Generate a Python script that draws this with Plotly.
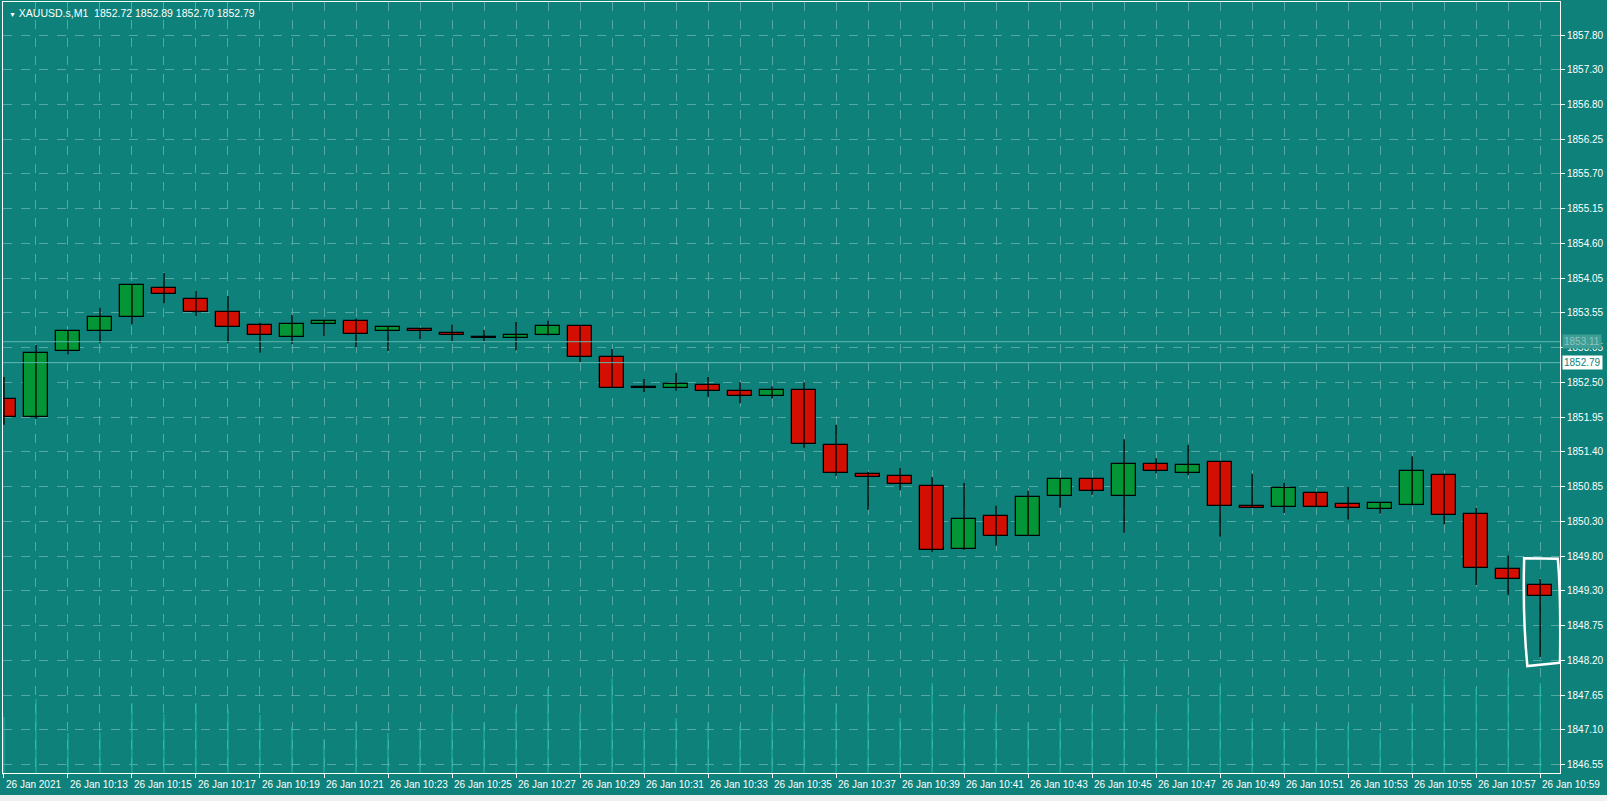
import plotly.graph_objects as go

# M1 bars 10:11 .. 10:59
minutes = list(range(11, 60))
opens = [1852.24, 1851.96, 1852.97, 1853.27, 1853.49, 1853.93, 1853.76, 1853.57, 1853.37, 1853.18,
         1853.38, 1853.43, 1853.27, 1853.31, 1853.24, 1853.17, 1853.17, 1853.21, 1853.35, 1852.88,
         1852.40, 1852.40, 1852.45, 1852.36, 1852.28, 1852.37, 1851.53, 1851.09, 1851.06, 1850.91,
         1849.94, 1850.45, 1850.14, 1850.75, 1851.01, 1850.75, 1851.24, 1851.10, 1851.27, 1850.60,
         1850.58, 1850.80, 1850.63, 1850.55, 1850.61, 1851.07, 1850.48, 1849.64, 1849.39]
highs = [1852.57, 1853.06, 1853.28, 1853.63, 1853.99, 1854.16, 1853.89, 1853.81, 1853.40, 1853.52,
         1853.44, 1853.46, 1853.35, 1853.32, 1853.37, 1853.29, 1853.41, 1853.43, 1853.36, 1853.00,
         1852.54, 1852.63, 1852.57, 1852.49, 1852.43, 1852.49, 1851.84, 1851.12, 1851.18, 1851.04,
         1850.95, 1850.60, 1850.83, 1851.02, 1851.02, 1851.62, 1851.33, 1851.53, 1851.28, 1851.09,
         1850.95, 1850.81, 1850.89, 1850.66, 1851.36, 1851.09, 1850.57, 1849.84, 1849.48]
lows = [1851.84, 1851.93, 1852.92, 1853.09, 1853.38, 1853.70, 1853.50, 1853.09, 1852.94, 1853.08,
        1853.20, 1853.03, 1852.97, 1853.15, 1853.12, 1853.12, 1852.98, 1853.21, 1852.80, 1852.40,
        1852.34, 1852.36, 1852.27, 1852.17, 1852.24, 1851.49, 1851.06, 1850.54, 1850.84, 1849.90,
        1849.92, 1849.99, 1850.14, 1850.57, 1850.77, 1850.19, 1851.10, 1851.07, 1850.13, 1850.57,
        1850.49, 1850.58, 1850.39, 1850.48, 1850.61, 1850.32, 1849.39, 1849.24, 1848.29]
closes = [1851.96, 1852.94, 1853.27, 1853.49, 1853.98, 1853.84, 1853.57, 1853.34, 1853.21, 1853.38,
          1853.43, 1853.23, 1853.34, 1853.27, 1853.21, 1853.17, 1853.21, 1853.35, 1852.88, 1852.40,
          1852.40, 1852.46, 1852.36, 1852.28, 1852.37, 1851.55, 1851.10, 1851.04, 1850.94, 1849.93,
          1850.40, 1850.14, 1850.74, 1851.01, 1850.83, 1851.24, 1851.13, 1851.23, 1850.60, 1850.57,
          1850.87, 1850.58, 1850.57, 1850.65, 1851.13, 1850.46, 1849.65, 1849.48, 1849.22]
volumes = [56, 74, 40, 41, 70, 59, 70, 64, 58, 46, 34, 52, 40, 45, 60, 50, 65, 85, 60, 95,
           45, 55, 50, 48, 60, 100, 70, 80, 55, 90, 65, 60, 50, 55, 65, 110, 60, 75, 90, 55,
           50, 45, 48, 40, 70, 95, 85, 100, 90]

price_ticks = [1857.80 - i * 0.53125 for i in range(22)]
price_labels = ["1857.80", "1857.30", "1856.80", "1856.25", "1855.70", "1855.15", "1854.60",
                "1854.05", "1853.55", "1853.05", "1852.50", "1851.95", "1851.40", "1850.85",
                "1850.30", "1849.80", "1849.30", "1848.75", "1848.20", "1847.65", "1847.10",
                "1846.55"]
time_labels = ["26 Jan 2021"] + ["26 Jan 10:%02d" % m for m in minutes[2::2]]
bid, last_high = 1852.79, 1853.11

BG = "#0e827a"
GRID = "#55a9a2"
UP, DOWN = "#029636", "#d20f00"
FONT = "Liberation Sans, Arial, sans-serif"

x = list(range(len(minutes)))
fig = go.Figure()

# volume lines
vx, vy = [], []
for i, v in zip(x, volumes):
    vx += [i, i, None]
    vy += [0, v, None]
fig.add_trace(go.Scatter(x=vx, y=vy, yaxis="y2", mode="lines",
                         line=dict(color="#20bcae", width=1), hoverinfo="skip"))

# wicks
wx, wy = [], []
for i, h, l in zip(x, highs, lows):
    wx += [i, i, None]
    wy += [l, h, None]
fig.add_trace(go.Scatter(x=wx, y=wy, mode="lines", line=dict(color="black", width=1.3),
                         hoverinfo="skip"))

# bodies
base, height, colors = [], [], []
for o, c in zip(opens, closes):
    base.append(min(o, c))
    height.append(max(abs(c - o), 0.012))
    colors.append("black" if abs(c - o) < 0.005 else (UP if c > o else DOWN))
fig.add_trace(go.Bar(x=x, y=height, base=base, width=0.74, marker_color=colors,
                     marker_line=dict(color="black", width=1.3)))

# price lines
for p in (last_high, bid):
    fig.add_hline(y=p, line=dict(color="#5fb8b0", width=1))

# hand drawn highlight
fig.add_shape(type="path", xref="x", yref="y",
              path="M 47.5 1849.80 L 48.55 1849.79 Q 48.65 1849.3 48.62 1848.2 "
                   "L 47.6 1848.15 Q 47.45 1848.9 47.5 1849.80 Z",
              line=dict(color="white", width=2.5))

# bottom strip
fig.add_shape(type="rect", xref="paper", yref="paper", x0=-0.01, x1=1.05,
              y0=-0.05, y1=-22 / 771, fillcolor="#f0f0f0", line_width=0, layer="below")

ann = []
for i, t in enumerate(time_labels):
    ann.append(dict(x=i * 2, y=0, xref="x", yref="paper", yshift=-4, text=t,
                    showarrow=False, xanchor="left", yanchor="top",
                    font=dict(color="white", size=10, family=FONT)))
ann.append(dict(x=1, y=bid, xref="paper", yref="y", text="1852.79", showarrow=False,
                xanchor="left", xshift=2, bgcolor="white", borderpad=1,
                font=dict(color="#0e827a", size=10, family=FONT)))
ann.append(dict(x=1, y=last_high, xref="paper", yref="y", text="1853.11", showarrow=False,
                xanchor="left", xshift=2, bgcolor="#3e9d95", borderpad=1,
                font=dict(color="#8cc7c1", size=10, family=FONT)))
ann.append(dict(x=0, y=1, xref="paper", yref="paper", xshift=4, yshift=-3,
                text="<span style='font-size:7px'>▼</span> XAUUSD.s,M1  1852.72 1852.89 1852.70 1852.79",
                showarrow=False, xanchor="left", yanchor="top",
                font=dict(color="white", size=10.5, family=FONT)))

fig.update_layout(
    width=1607, height=801,
    margin=dict(l=3, r=47, t=2, b=28, autoexpand=False),
    paper_bgcolor=BG, plot_bgcolor=BG,
    showlegend=False, bargap=0,
    font=dict(family=FONT, color="white", size=10),
    annotations=ann,
    xaxis=dict(range=[-0.03, 48.62], tickvals=x[::2], showticklabels=False,
               ticks="outside", ticklen=4, tickcolor="white",
               showgrid=True, gridcolor=GRID, griddash="dash", gridwidth=1,
               minor=dict(dtick=1, showgrid=True, gridcolor=GRID, griddash="dash"),
               showline=True, linecolor="white", linewidth=1, mirror=True,
               zeroline=False, fixedrange=True),
    yaxis=dict(range=[1846.515, 1858.305], side="right", tickvals=price_ticks,
               ticktext=price_labels, ticks="outside", ticklen=4, tickcolor="white",
               showgrid=True, gridcolor=GRID, griddash="dash",
               showline=True, linecolor="white", linewidth=1, mirror=True,
               zeroline=False, tickfont=dict(size=10, color="white", family=FONT)),
    yaxis2=dict(range=[0, 771], overlaying="y", visible=False),
)

fig.write_html("out.html", config={"displayModeBar": False},
               post_script="document.body.style.margin='0';document.body.style.overflow='hidden';")
